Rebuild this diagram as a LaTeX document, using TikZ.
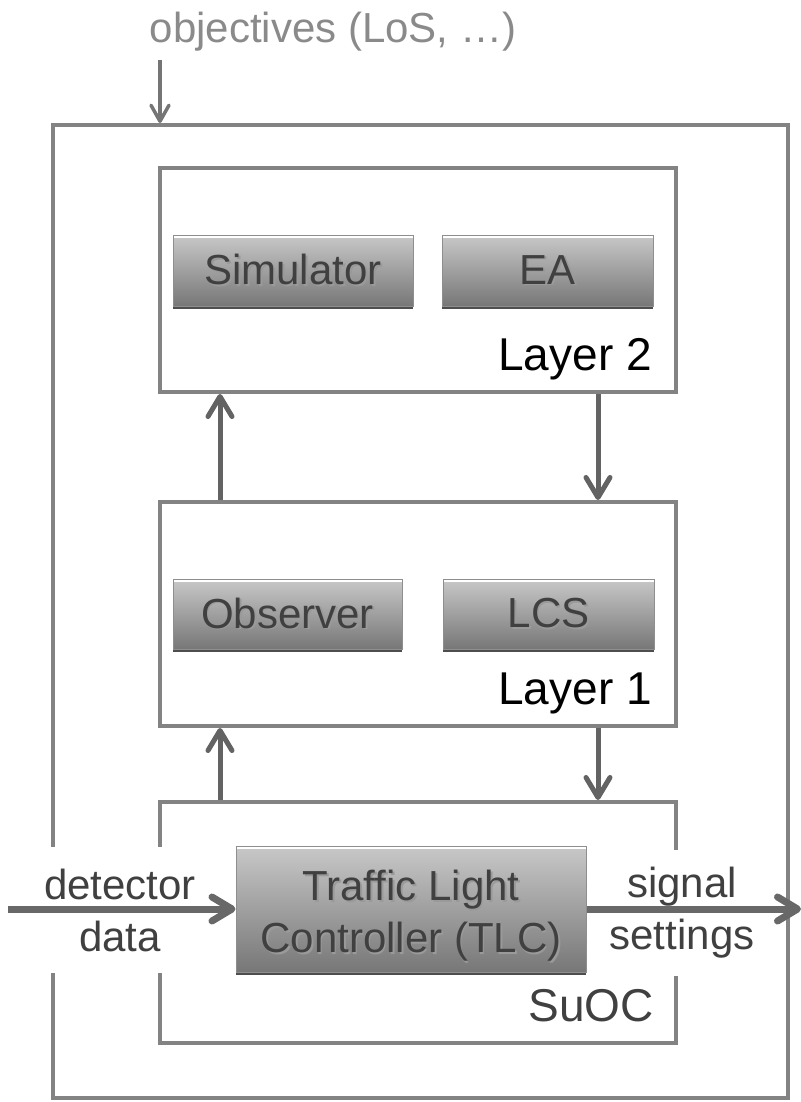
\documentclass[tikz,border=0pt]{standalone}
\usepackage{fontspec}
\setmainfont{Liberation Sans}
\usetikzlibrary{arrows.meta,shadows}

\definecolor{framegray}{HTML}{838383}
\definecolor{arrowgray}{HTML}{636363}
\definecolor{flowgray}{HTML}{686868}
\definecolor{objgray}{HTML}{8A8A8A}
\definecolor{txtdark}{HTML}{404040}
\definecolor{txtshadow}{HTML}{9A9A9A}
\definecolor{modtop}{HTML}{C8C8C8}
\definecolor{modbot}{HTML}{777777}
\definecolor{modborder}{HTML}{8E8E8E}
\definecolor{modshadow}{HTML}{4E4E4E}

% raised text with a soft shadow, as on the module buttons
\newcommand\emb[1]{\leavevmode\rlap{\kern1.8pt\raisebox{-1.8pt}{\color{txtshadow}#1}}#1}

\tikzset{
  frame/.style={draw=framegray, line width=4pt, inner sep=0pt},
  module/.style={draw=modborder, line width=1pt, top color=modtop, bottom color=modbot,
    drop shadow={shadow xshift=0pt, shadow yshift=-3pt, fill=modshadow, opacity=1},
    text=txtdark, font=\fontsize{42}{52}\selectfont, inner sep=0pt, align=center,
    path picture={\draw[white, line width=1.5pt]
      ([yshift=-1.8pt]path picture bounding box.north west) --
      ([yshift=-1.8pt]path picture bounding box.north east);}},
  layerlbl/.style={anchor=base east, inner sep=0pt, font=\fontsize{46}{50}\selectfont},
  flowlbl/.style={fill=white, text=txtdark, align=center, inner xsep=4pt, inner ysep=0pt,
    font=\fontsize{42}{52}\selectfont, minimum height=126pt},
  tip/.style={-{Straight Barb[length=20pt, width=24pt, line cap=round, line join=round]}},
  varr/.style={tip, draw=arrowgray, line width=5pt},
  harr/.style={tip, draw=flowgray, line width=7pt},
  objarr/.style={-{Straight Barb[length=16pt, width=18pt, line cap=round, line join=round]},
    draw=objgray!85!black, line width=3.5pt},
}

\begin{document}
\begin{tikzpicture}[x=1pt, y=-1pt]
\useasboundingbox (0,0) rectangle (800,1102);

% enclosing system
\node[frame, minimum width=735pt, minimum height=973pt] (outer) at (420.5,611.5) {};

% the three layers
\node[frame, minimum width=516pt, minimum height=224pt] (l2) at (418,280) {};
\node[frame, minimum width=516pt, minimum height=224pt] (l1) at (418,614) {};
\node[frame, minimum width=516pt, minimum height=241pt] (suoc) at (418,922.5) {};

\node[layerlbl] (l2lbl) at (652,370) {Layer 2};
\node[layerlbl] (l1lbl) at (652,704) {Layer 1};
\node[layerlbl, text=txtdark] (suoclbl) at (654,1021) {SuOC};

% modules
\node[module, minimum width=240pt, minimum height=71pt] (sim) at (293,270.5) {\emb{Simulator}};
\node[module, minimum width=211pt, minimum height=71pt] (ea) at (547.5,270.5) {\emb{EA}};
\node[module, minimum width=229pt, minimum height=70pt] (obs) at (287.5,614) {\emb{Observer}};
\node[module, minimum width=211pt, minimum height=70pt] (lcs) at (548.5,614) {\emb{LCS}};

% flow labels on white ground
\node[flowlbl] (detlbl) at (120,910) {detector\\data};
\node[flowlbl] (siglbl) at (682,913) {signal\\settings};

\node[module, minimum width=350pt, minimum height=126pt, text height=97pt] (tlc) at (411,909)
  {\emb{Traffic Light}\\\emb{Controller (TLC)}};

% objectives input
\node[text=objgray, font=\fontsize{42}{50}\selectfont, inner sep=0pt] (obj) at (333,32) {objectives (LoS, …)};
\coordinate (objsrc) at (160,60);
\draw[objarr] (objsrc) -- (objsrc |- outer.north);

% vertical information flow between layers
\coordinate (upx) at (220,0);
\coordinate (dnx) at (598,0);
\draw[varr] (l1.north -| upx) -- (l2.south -| upx);
\draw[varr] (l2.south -| dnx) -- (l1.north -| dnx);
\draw[varr] (suoc.north -| upx) -- (l1.south -| upx);
\draw[varr] (l1.south -| dnx) -- (suoc.north -| dnx);

% detector data in, signal settings out
\coordinate (detsrc) at (8,909);
\coordinate (sigdst) at (801,909);
\draw[harr] (detsrc) -- (tlc.west |- detsrc);
\draw[harr] (tlc.east |- sigdst) -- (sigdst);
\end{tikzpicture}
\end{document}
